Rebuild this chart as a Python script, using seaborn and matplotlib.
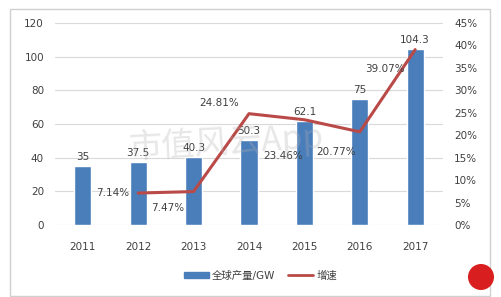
import pandas as pd
import matplotlib
matplotlib.use("Agg")
import matplotlib.pyplot as plt
import seaborn as sns
from matplotlib.patches import Rectangle, Ellipse
from matplotlib.lines import Line2D

# data
years = ["2011", "2012", "2013", "2014", "2015", "2016", "2017"]
output_gw = [35, 37.5, 40.3, 50.3, 62.1, 75, 104.3]
growth_years = ["2012", "2013", "2014", "2015", "2016", "2017"]
growth_pct = [7.14, 7.47, 24.81, 23.46, 20.77, 39.07]
growth_labels = ["7.14%", "7.47%", "24.81%", "23.46%", "20.77%", "39.07%"]
# label offsets in pixels (dx, dy) relative to each growth point
growth_offsets = [(-26, 0), (-26, -16), (-30, 11), (-21, -36), (-24, -20), (-30, -19)]
left_ticks = [0, 20, 40, 60, 80, 100, 120]
right_ticks = [0, 5, 10, 15, 20, 25, 30, 35, 40, 45]

sns.set_theme(style="white")
plt.rcParams["font.family"] = ["DejaVu Sans", "Noto Sans CJK SC"]

BAR = "#4a7ebb"
LINE = "#b94a48"
TXT = "#404040"
GRID = "#d9d9d9"

W, H = 501, 297

df_bar = pd.DataFrame({"year": years, "gw": output_gw})
df_line = pd.DataFrame({
    "pos": [years.index(y) for y in growth_years],
    "pct": growth_pct,
})

fig = plt.figure(figsize=(W / 100, H / 100), dpi=100)
fig.patch.set_facecolor("white")
ax = fig.add_axes([0.11, 0.242, 0.774, 0.6806])

sns.barplot(data=df_bar, x="year", y="gw", color=BAR, width=0.31,
            saturation=1, ax=ax, zorder=2)
ax.set_ylim(0, 120)
ax.set_yticks(left_ticks)
ax.set_xlim(-0.5, len(years) - 0.5)
ax.yaxis.grid(True, color=GRID, linewidth=0.8, zorder=0)
ax.set_axisbelow(True)
for s in ax.spines.values():
    s.set_visible(False)
ax.set_xlabel("")
ax.set_ylabel("")
ax.tick_params(axis="both", length=0, labelsize=7.5, labelcolor=TXT)
ax.tick_params(axis="x", pad=12)
ax.tick_params(axis="y", pad=8)

for i, v in enumerate(output_gw):
    ax.annotate(f"{v:g}", (i, v), xytext=(0, 4), textcoords="offset pixels",
                ha="center", va="bottom", fontsize=7.5, color=TXT, zorder=5)

ax2 = ax.twinx()
sns.lineplot(data=df_line, x="pos", y="pct", color=LINE, linewidth=2.2,
             ax=ax2, zorder=3)
ax2.set_ylim(0, 45)
ax2.set_yticks(right_ticks)
ax2.set_yticklabels([f"{t}%" for t in right_ticks])
ax2.set_xlim(-0.5, len(years) - 0.5)
for s in ax2.spines.values():
    s.set_visible(False)
ax2.set_xlabel("")
ax2.set_ylabel("")
ax2.tick_params(axis="y", length=0, labelsize=7.5, labelcolor=TXT, pad=8)

for pos, pct, lab, off in zip(df_line["pos"], growth_pct, growth_labels, growth_offsets):
    ax2.annotate(lab, (pos, pct), xytext=off, textcoords="offset pixels",
                 ha="center", va="center", fontsize=7.5, color=TXT, zorder=5)

# faint watermark
fig.text(0.45, 0.52, "市值风云App", fontsize=24, color="#b0b0b0", alpha=0.3,
         ha="center", va="center", family=["Noto Sans CJK SC"], rotation=3)

# legend
handles = [Rectangle((0, 0), 1, 1, color=BAR),
           Line2D([0], [0], color=LINE, linewidth=2)]
fig.legend(handles, ["全球产量/GW", "增速"], loc="center",
           bbox_to_anchor=(0.52, 0.072), ncol=2, frameon=False,
           fontsize=7.5, handlelength=2.4, handleheight=0.6,
           columnspacing=1.2, handletextpad=0.3,
           labelcolor=TXT)

# outer frame and round logo
fig.patches.append(Rectangle((0.02, 0.005), 0.958, 0.965, transform=fig.transFigure,
                             fill=False, edgecolor="#d0d0d0", linewidth=1))
fig.patches.append(Ellipse((481 / W, 1 - 277 / H), 26 / W, 26 / H,
                           transform=fig.transFigure,
                           facecolor="#d81e1e", edgecolor="none"))

fig.savefig("out.png", dpi=100)
